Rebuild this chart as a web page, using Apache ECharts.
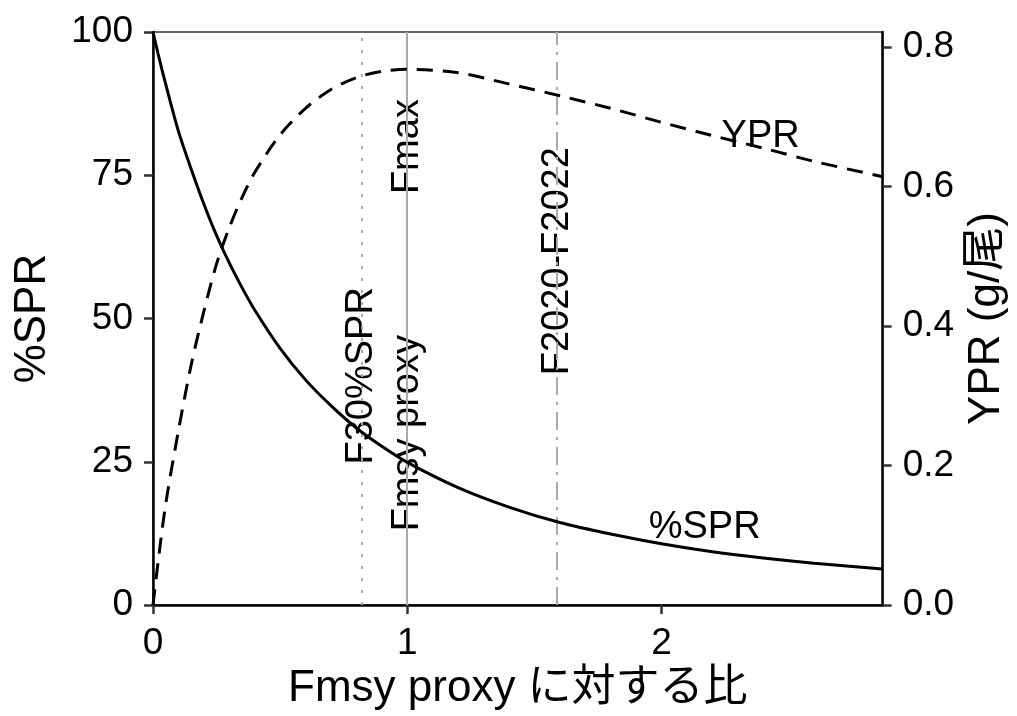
<!DOCTYPE html>
<html>
<head>
<meta charset="utf-8">
<script src="https://cdn.jsdelivr.net/npm/echarts@6/dist/echarts.min.js"></script>
<style>
html, body { margin: 0; padding: 0; background: #fff; }
#MyChart { width: 1017px; height: 716px; }
</style>
</head>
<body>
<div id="MyChart"></div>
<script>
// F / Fmsy proxy
var fRatio = [0, 0.02, 0.05, 0.1, 0.15, 0.2, 0.25, 0.3, 0.35, 0.4, 0.5, 0.6, 0.7, 0.8, 0.9, 1.0, 1.2, 1.4, 1.6, 1.8, 2.0, 2.2, 2.4, 2.6, 2.87];
// %SPR (left axis)
var sprValues = [100, 96.2, 90.9, 82.7, 76.1, 70.0, 64.5, 59.7, 55.4, 51.5, 44.8, 39.3, 34.8, 30.9, 27.7, 24.9, 20.5, 17.1, 14.4, 12.4, 10.7, 9.3, 8.2, 7.3, 6.3];
// YPR g/尾 (right axis)
var yprValues = [0, 0.062, 0.145, 0.250, 0.344, 0.421, 0.489, 0.541, 0.584, 0.620, 0.674, 0.712, 0.739, 0.756, 0.765, 0.768, 0.763, 0.747, 0.730, 0.712, 0.692, 0.673, 0.655, 0.636, 0.614];

// tick labels
var xTicks = [0, 1, 2];
var sprTicks = [0, 25, 50, 75, 100];
var yprTicks = [0, 0.2, 0.4, 0.6, 0.8];

// reference lines: F30%SPR, Fmsy proxy, F2020-F2022
var refX = [0.82, 1.0, 1.59];

// vertical labels
var vLabelX = [0.82, 1.0, 1.0, 1.59];
var vLabelY = [40, 30, 80, 60];
var vLabelText = ['F30%SPR', 'Fmsy proxy', 'Fmax', 'F2020-F2022'];

var FONT = "'Liberation Sans', Arial, 'Noto Sans CJK JP', sans-serif";

function pairs(xs, ys) {
    var out = [];
    for (var i = 0; i < xs.length; i++) out.push([xs[i], ys[i]]);
    return out;
}

var vLabelData = [];
for (var i = 0; i < vLabelX.length; i++) {
    vLabelData.push([vLabelX[i], vLabelY[i], vLabelText[i]]);
}

//文字标签
function textLabel(rotate) {
    return {
        show: true, position: 'inside', rotate: rotate,
        fontSize: 38, color: '#000', fontFamily: FONT, opacity: 1,
        textBorderWidth: 0,
        formatter: function (p) { return p.value[2]; }
    };
}

var myChart = echarts.init(document.getElementById('MyChart'), null, { renderer: 'canvas' });
var option = {
    animation: false,
    backgroundColor: '#fff',
    textStyle: { fontFamily: FONT },
    grid: {
        left: 153, right: 131, top: 32, bottom: 107,
        show: true, borderColor: '#333', borderWidth: 1.5, backgroundColor: 'transparent'
    },
    xAxis: {
        type: 'value', min: 0, max: 2.87, interval: 1,
        name: 'Fmsy proxy に対する比', nameLocation: 'middle', nameGap: 56,
        nameTextStyle: { fontSize: 44, color: '#000', fontFamily: FONT },
        axisLine: { show: true, onZero: false, lineStyle: { color: '#000', width: 2.5 } },
        axisTick: { show: true, length: 9, customValues: xTicks, lineStyle: { color: '#333', width: 2.5 } },
        axisLabel: { customValues: xTicks, fontSize: 37, color: '#000', margin: 20, fontFamily: FONT },
        splitLine: { show: false }
    },
    yAxis: [
        {
            type: 'value', min: 0, max: 100, interval: 25, position: 'left',
            name: '%SPR', nameLocation: 'middle', nameGap: 98,
            nameTextStyle: { fontSize: 44, color: '#000', fontFamily: FONT },
            axisLine: { show: true, onZero: false, lineStyle: { color: '#000', width: 2.5 } },
            axisTick: { show: true, length: 9, customValues: sprTicks, lineStyle: { color: '#333', width: 2.5 } },
            axisLabel: { customValues: sprTicks, fontSize: 37, color: '#000', margin: 20, fontFamily: FONT },
            splitLine: { show: false }
        },
        {
            type: 'value', min: 0, max: 0.8214, interval: 0.2, position: 'right',
            name: 'YPR (g/尾)', nameLocation: 'middle', nameGap: 80,
            nameTextStyle: { fontSize: 44, color: '#000', fontFamily: FONT },
            axisLine: { show: true, onZero: false, lineStyle: { color: '#000', width: 2.5 } },
            axisTick: { show: true, length: 9, customValues: yprTicks, lineStyle: { color: '#333', width: 2.5 } },
            axisLabel: {
                customValues: yprTicks, fontSize: 37, color: '#000', margin: 20, fontFamily: FONT,
                formatter: function (v) { return v.toFixed(1); }
            },
            splitLine: { show: false }
        }
    ],
    series: [
        {
            name: '%SPR', type: 'line', yAxisIndex: 0,
            data: pairs(fRatio, sprValues),
            showSymbol: false, symbol: 'none', smooth: 0.3,
            lineStyle: { color: '#000', width: 3 },
            z: 5,
            markLine: {
                silent: true, symbol: 'none', animation: false,
                label: { show: false },
                data: [
                    { xAxis: refX[0], lineStyle: { color: '#aaa', width: 2, type: [3, 9] } },
                    { xAxis: refX[1], lineStyle: { color: '#aaa', width: 2, type: 'solid' } },
                    { xAxis: refX[2], lineStyle: { color: '#aaa', width: 2, type: [18, 7, 3, 7] } }
                ]
            }
        },
        {
            name: 'YPR', type: 'line', yAxisIndex: 1,
            data: pairs(fRatio, yprValues),
            showSymbol: false, symbol: 'none', smooth: 0.3,
            lineStyle: { color: '#000', width: 3, type: [16, 10] },
            z: 5
        },
        {
            name: 'vlabels', type: 'scatter', yAxisIndex: 0,
            data: vLabelData, symbolSize: 0, silent: true, z: 4,
            itemStyle: { opacity: 1 },
            label: textLabel(90)
        },
        {
            name: 'sprLabel', type: 'scatter', yAxisIndex: 0,
            data: [[2.17, 13.5, '%SPR']], symbolSize: 0, silent: true, z: 4,
            itemStyle: { opacity: 1 },
            label: textLabel(0)
        },
        {
            name: 'yprLabel', type: 'scatter', yAxisIndex: 1,
            data: [[2.39, 0.672, 'YPR']], symbolSize: 0, silent: true, z: 4,
            itemStyle: { opacity: 1 },
            label: textLabel(0)
        }
    ]
};
myChart.setOption(option);
</script>
</body>
</html>
